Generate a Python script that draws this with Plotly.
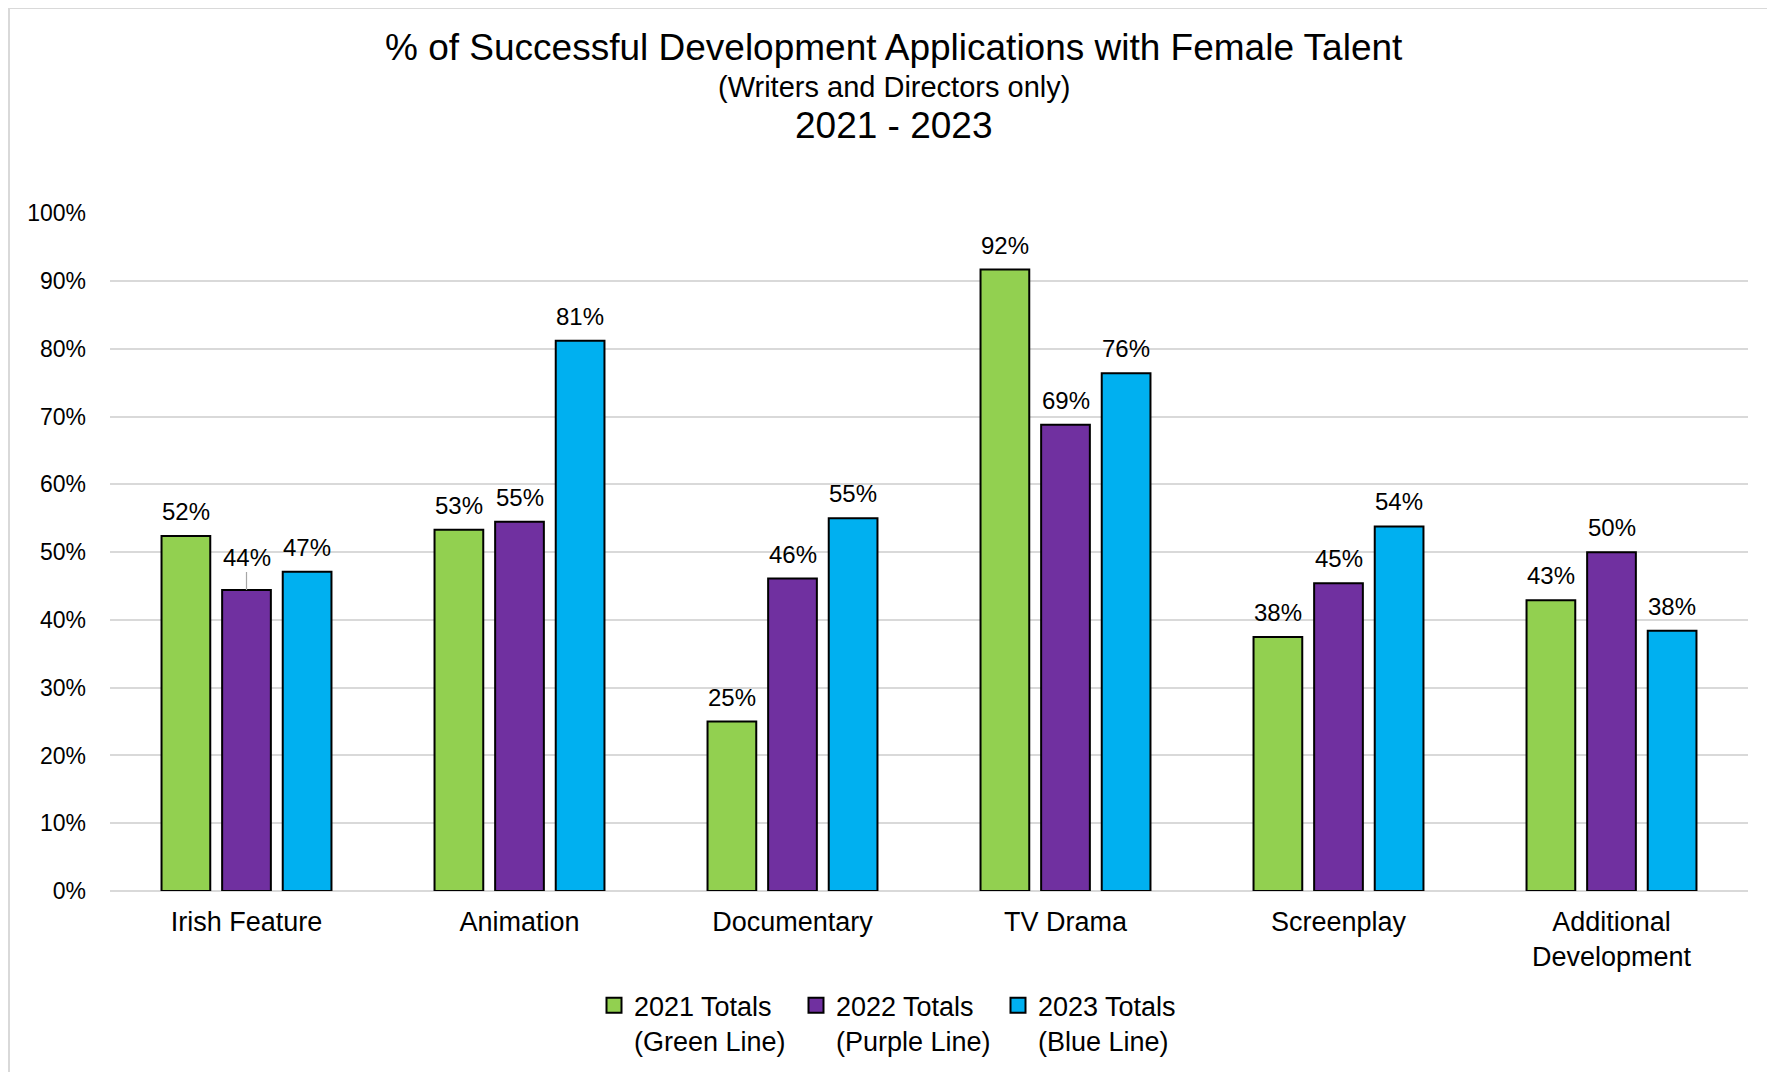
import plotly.graph_objects as go

categories = ["Irish Feature", "Animation", "Documentary", "TV Drama", "Screenplay", "Additional<br>Development"]
series_names = ["2021 Totals<br>(Green Line)", "2022 Totals<br>(Purple Line)", "2023 Totals<br>(Blue Line)"]
values_2021 = [52.4, 53.3, 25.0, 91.7, 37.5, 42.9]
values_2022 = [44.4, 54.5, 46.1, 68.8, 45.4, 50.0]
values_2023 = [47.1, 81.2, 55.0, 76.4, 53.8, 38.4]
colors = ["#92D050", "#7030A0", "#00B0F0"]
y_ticks = list(range(0, 101, 10))
y_tick_labels = [f"{v}%" for v in y_ticks]

# page has an 8px body margin; figure sized to fit the window
W, H = 1767, 1064
ML, MR, MT, MB = 102, 27, 205, 181
FONT = "Liberation Sans, Arial, sans-serif"
BARGAP = 0.334
GROUPGAP = 0.196


def py(pix):
    return (H - MB - pix) / (H - MT - MB)


def px(pix):
    return (pix - ML) / (W - ML - MR)


fig = go.Figure()
all_series = [values_2021, values_2022, values_2023]
for name, vals, col in zip(series_names, all_series, colors):
    fig.add_trace(go.Bar(
        x=categories, y=vals, name=name, showlegend=False,
        marker=dict(color=col, line=dict(color="#000000", width=2)),
        cliponaxis=False,
    ))
# legend entries (square swatches with black outline)
for name, col in zip(series_names, colors):
    fig.add_trace(go.Scatter(
        x=[None], y=[None], name=name, mode="markers",
        marker=dict(symbol="square", size=15, color=col, line=dict(color="#000000", width=2)),
    ))

fig.update_layout(
    width=W, height=H,
    margin=dict(l=ML, r=MR, t=MT, b=MB, autoexpand=False),
    paper_bgcolor="white", plot_bgcolor="white",
    barmode="group", bargap=BARGAP, bargroupgap=GROUPGAP,
    font=dict(family=FONT, color="#000000"),
    showlegend=True,
    legend=dict(orientation="h", x=px(889), xanchor="center", y=-0.133, yanchor="top",
                font=dict(family=FONT, size=27, color="#000000"),
                valign="top", itemwidth=30, traceorder="normal", entrywidth=157),
    xaxis=dict(showgrid=False, showline=False, ticks="", ticklabelstandoff=12,
               tickfont=dict(family=FONT, size=27, color="#000000")),
    yaxis=dict(range=[0, 100.05], tickvals=y_ticks, ticktext=y_tick_labels,
               showgrid=True, gridcolor="#D9D9D9", gridwidth=1.5,
               zeroline=True, zerolinecolor="#D9D9D9", zerolinewidth=1.5,
               showline=False, ticks="", ticklabelstandoff=23,
               tickfont=dict(family=FONT, size=23, color="#000000")),
)

# data labels above each bar, shifted to the bar slot within the group
plot_w = W - ML - MR
slot = plot_w / len(categories) * (1 - BARGAP) / 3
for i, vals in enumerate(all_series):
    for cat, v in zip(categories, vals):
        lifted = (i == 1 and cat == "Irish Feature")
        if lifted:
            fig.add_annotation(x=cat, y=v, text=f"{v:.0f}%", xref="x", yref="y",
                               xshift=(i - 1) * slot, showarrow=True, ax=0, ay=-33,
                               arrowhead=0, arrowwidth=1.2, arrowcolor="#A6A6A6",
                               standoff=0, startstandoff=0,
                               font=dict(family=FONT, size=24, color="#000000"))
        else:
            fig.add_annotation(x=cat, y=v, text=f"{round(v + 1e-9):.0f}%", xref="x", yref="y",
                               xshift=(i - 1) * slot, yshift=9, yanchor="bottom",
                               showarrow=False,
                               font=dict(family=FONT, size=24, color="#000000"))

# titles
TX = px(886)
fig.add_annotation(text="% of Successful Development Applications with Female Talent",
                   xref="paper", yref="paper", x=TX, y=py(40), yanchor="middle",
                   showarrow=False, font=dict(family=FONT, size=37, color="#000000"))
fig.add_annotation(text="(Writers and Directors only)",
                   xref="paper", yref="paper", x=TX, y=py(79), yanchor="middle",
                   showarrow=False, font=dict(family=FONT, size=29, color="#000000"))
fig.add_annotation(text="2021 - 2023",
                   xref="paper", yref="paper", x=TX, y=py(118), yanchor="middle",
                   showarrow=False, font=dict(family=FONT, size=37, color="#000000"))

# light border along the top and left of the chart area
fig.add_shape(type="line", xref="paper", yref="paper",
              x0=px(1), x1=px(W + 20), y0=py(0), y1=py(0),
              line=dict(color="#D9D9D9", width=2))
fig.add_shape(type="line", xref="paper", yref="paper",
              x0=px(1), x1=px(1), y0=py(0), y1=py(H + 20),
              line=dict(color="#D9D9D9", width=2))

fig.write_html("out.html")
